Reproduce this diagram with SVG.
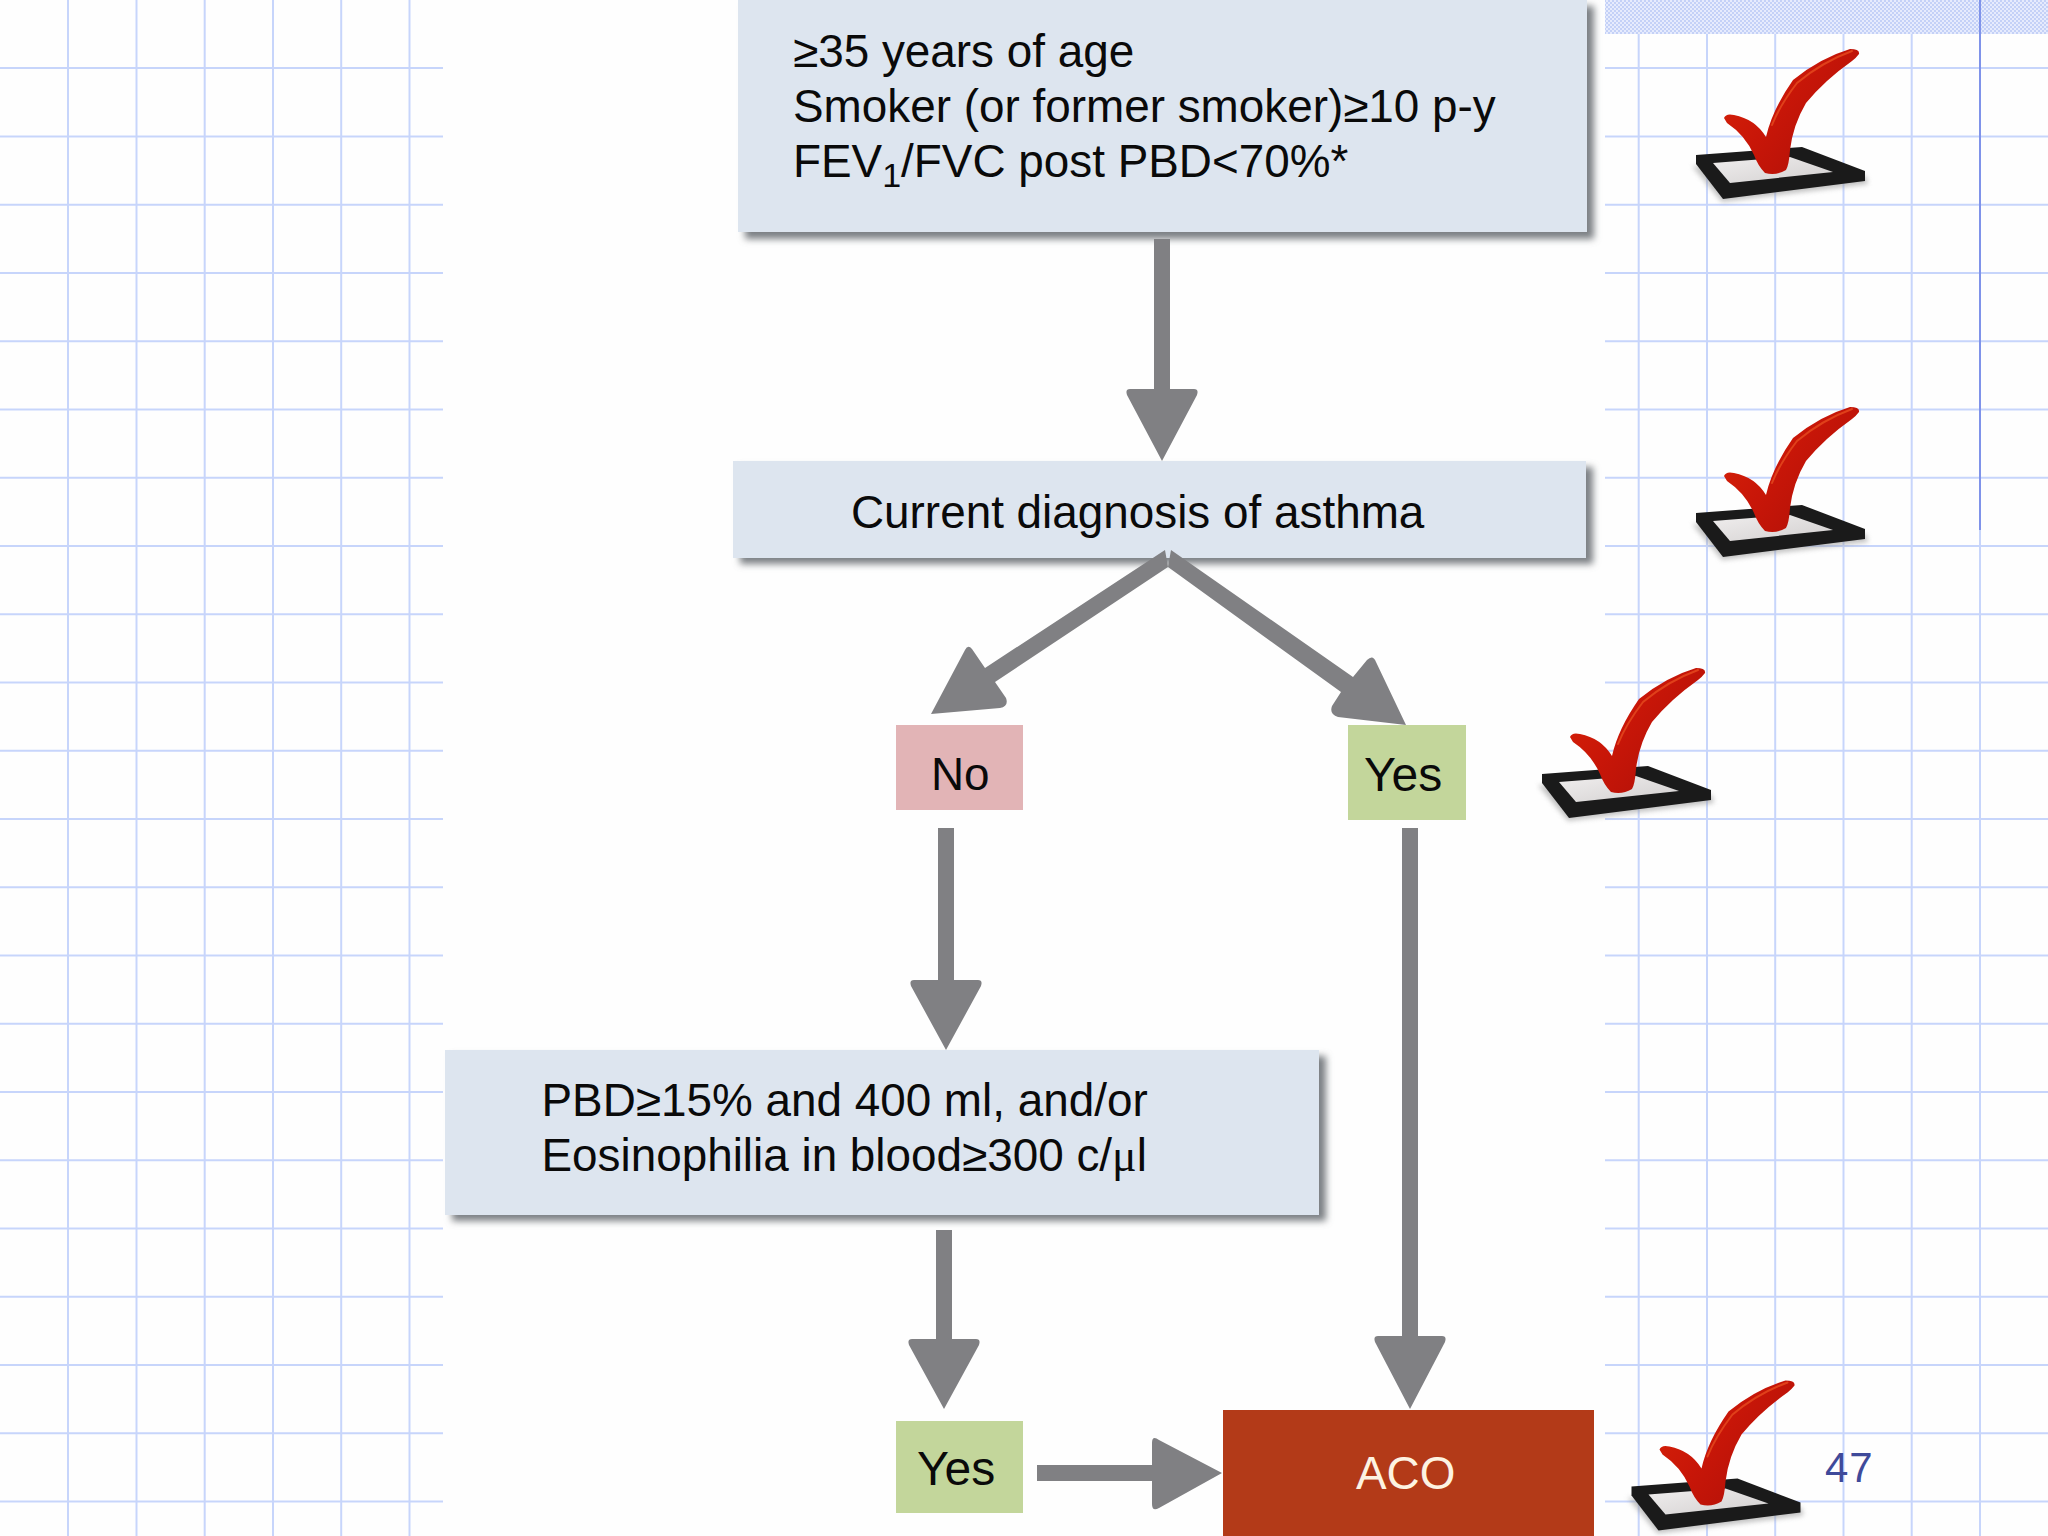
<svg xmlns="http://www.w3.org/2000/svg" xmlns:xlink="http://www.w3.org/1999/xlink" width="2048" height="1536" viewBox="0 0 2048 1536">
<style>
.grid line{stroke:#c7d5fb;stroke-width:2}
.box{fill:#dde5ef}
.shadow{fill:#7b8084;filter:url(#blur3)}
.t{font-family:"Liberation Sans",Arial,sans-serif;font-size:45.85px;fill:#0a0a0a}
.big{font-size:48px}
.sub{font-size:34px}
.mu{font-family:"Liberation Serif",serif}
.arrow{fill:#808083}
</style>
<defs>
<filter id="blur3" x="-10%" y="-20%" width="120%" height="140%"><feGaussianBlur stdDeviation="3.5"/></filter>
<filter id="blur2" x="-20%" y="-30%" width="140%" height="160%"><feGaussianBlur stdDeviation="2.5"/></filter>
<pattern id="dither" width="4" height="4" patternUnits="userSpaceOnUse"><rect width="4" height="4" fill="#e6ebfd"/><rect width="2" height="2" fill="#c4d1f7"/><rect x="2" y="2" width="2" height="2" fill="#c4d1f7"/></pattern>
<linearGradient id="red" x1="0" y1="0" x2="1" y2="0.7"><stop offset="0" stop-color="#d92408"/><stop offset="0.5" stop-color="#c81608"/><stop offset="1" stop-color="#b01008"/></linearGradient>
<linearGradient id="tray" x1="0" y1="0" x2="1" y2="1"><stop offset="0" stop-color="#f0eeee"/><stop offset="1" stop-color="#d2cfcf"/></linearGradient>
<g id="check">
<path d="M1692 166L1722 202L1868 184L1866 176Z" fill="#9a9a9a" opacity="0.6" filter="url(#blur2)"/>
<path d="M1696 155L1802 147L1865 171V181L1723 199L1696 164Z" fill="#1a1a1a"/>
<path d="M1713 163L1790 157L1833 172L1730 183Z" fill="url(#tray)"/>
<path d="M1724 118Q1726 113 1734 115Q1755 119 1766 137Q1772 110 1793 80Q1820 58 1850 49Q1860 49 1859 54Q1856 58 1852 61Q1825 80 1806 103Q1793 125 1790 150Q1789 165 1786 170Q1776 176 1765 173Q1758 166 1754 155Q1745 135 1727 123Z" fill="url(#red)"/>
<path d="M1772 125Q1780 105 1797 83Q1822 62 1852 51" fill="none" stroke="#e0401a" stroke-width="2" stroke-linecap="round"/>
</g>
</defs>
<rect width="2048" height="1536" fill="#fefefe"/>
<g class="grid" id="grid-left">
<line x1="68" y1="0" x2="68" y2="1536"/><line x1="136.5" y1="0" x2="136.5" y2="1536"/><line x1="204.7" y1="0" x2="204.7" y2="1536"/><line x1="273" y1="0" x2="273" y2="1536"/><line x1="341.2" y1="0" x2="341.2" y2="1536"/><line x1="409.5" y1="0" x2="409.5" y2="1536"/>
<line x1="0" y1="68" x2="443" y2="68"/><line x1="0" y1="136.5" x2="443" y2="136.5"/><line x1="0" y1="204.7" x2="443" y2="204.7"/><line x1="0" y1="273" x2="443" y2="273"/><line x1="0" y1="341.2" x2="443" y2="341.2"/><line x1="0" y1="409.5" x2="443" y2="409.5"/><line x1="0" y1="477.7" x2="443" y2="477.7"/><line x1="0" y1="546" x2="443" y2="546"/><line x1="0" y1="614.2" x2="443" y2="614.2"/><line x1="0" y1="682.5" x2="443" y2="682.5"/><line x1="0" y1="750.7" x2="443" y2="750.7"/><line x1="0" y1="819" x2="443" y2="819"/><line x1="0" y1="887.2" x2="443" y2="887.2"/><line x1="0" y1="955.5" x2="443" y2="955.5"/><line x1="0" y1="1023.7" x2="443" y2="1023.7"/><line x1="0" y1="1092" x2="443" y2="1092"/><line x1="0" y1="1160.2" x2="443" y2="1160.2"/><line x1="0" y1="1228.5" x2="443" y2="1228.5"/><line x1="0" y1="1296.7" x2="443" y2="1296.7"/><line x1="0" y1="1365" x2="443" y2="1365"/><line x1="0" y1="1433.2" x2="443" y2="1433.2"/><line x1="0" y1="1501.5" x2="443" y2="1501.5"/>
</g>
<g class="grid" id="grid-right">
<line x1="1638.7" y1="0" x2="1638.7" y2="1536"/><line x1="1707" y1="0" x2="1707" y2="1536"/><line x1="1775.2" y1="0" x2="1775.2" y2="1536"/><line x1="1843.5" y1="0" x2="1843.5" y2="1536"/><line x1="1911.7" y1="0" x2="1911.7" y2="1536"/><line x1="1980" y1="0" x2="1980" y2="1536"/>
<line x1="1605" y1="68" x2="2048" y2="68"/><line x1="1605" y1="136.5" x2="2048" y2="136.5"/><line x1="1605" y1="204.7" x2="2048" y2="204.7"/><line x1="1605" y1="273" x2="2048" y2="273"/><line x1="1605" y1="341.2" x2="2048" y2="341.2"/><line x1="1605" y1="409.5" x2="2048" y2="409.5"/><line x1="1605" y1="477.7" x2="2048" y2="477.7"/><line x1="1605" y1="546" x2="2048" y2="546"/><line x1="1605" y1="614.2" x2="2048" y2="614.2"/><line x1="1605" y1="682.5" x2="2048" y2="682.5"/><line x1="1605" y1="750.7" x2="2048" y2="750.7"/><line x1="1605" y1="819" x2="2048" y2="819"/><line x1="1605" y1="887.2" x2="2048" y2="887.2"/><line x1="1605" y1="955.5" x2="2048" y2="955.5"/><line x1="1605" y1="1023.7" x2="2048" y2="1023.7"/><line x1="1605" y1="1092" x2="2048" y2="1092"/><line x1="1605" y1="1160.2" x2="2048" y2="1160.2"/><line x1="1605" y1="1228.5" x2="2048" y2="1228.5"/><line x1="1605" y1="1296.7" x2="2048" y2="1296.7"/><line x1="1605" y1="1365" x2="2048" y2="1365"/><line x1="1605" y1="1433.2" x2="2048" y2="1433.2"/><line x1="1605" y1="1501.5" x2="2048" y2="1501.5"/>
</g>
<rect id="band" x="1605" y="0" width="443" height="34" fill="url(#dither)"/>
<line id="margin" x1="1980" y1="0" x2="1980" y2="530" stroke="#7f93ea" stroke-width="2"/>

<g id="node-criteria">
<rect class="shadow" x="745" y="6" width="849" height="233"/>
<rect class="box" x="738" y="-2" width="849" height="234"/>
<text class="t" x="793" y="67">≥35 years of age</text>
<text class="t" x="793" y="122">Smoker (or former smoker)≥10 p-y</text>
<text class="t" x="793" y="177">FEV<tspan class="sub" dy="10">1</tspan><tspan dy="-10">/FVC post PBD&lt;70%*</tspan></text>
</g>
<g id="node-asthma">
<rect class="shadow" x="740" y="467" width="853" height="97"/>
<rect class="box" x="733" y="461" width="853" height="97"/>
<text class="t" x="851" y="528">Current diagnosis of asthma</text>
</g>
<g id="node-no">
<rect x="896" y="725" width="127" height="85" fill="#e2b4b6"/>
<text class="t" x="931" y="790">No</text>
</g>
<g id="node-yes-1">
<rect x="1348" y="725" width="118" height="95" fill="#c3d69b"/>
<text class="t big" x="1364" y="791">Yes</text>
</g>
<g id="node-pbd">
<rect class="shadow" x="452" y="1056" width="874" height="165"/>
<rect class="box" x="445" y="1050" width="874" height="165"/>
<text class="t" x="541.5" y="1116">PBD≥15% and 400 ml, and/or</text>
<text class="t" x="541.5" y="1171">Eosinophilia in blood≥300 c/<tspan class="mu">μ</tspan>l</text>
</g>
<g id="node-yes-2">
<rect x="896" y="1421" width="127" height="92" fill="#c3d69b"/>
<text class="t big" x="917" y="1485">Yes</text>
</g>
<g id="node-aco">
<rect x="1223" y="1410" width="371" height="126" fill="#b33a18"/>
<text class="t" x="1356" y="1489" style="fill:#fdf3e2">ACO</text>
</g>

<g id="connectors">
<path class="arrow" d="M1154 239V389H1130Q1125 389 1127 395L1162 461L1197 395Q1199 389 1194 389H1170V239Z"/>
<path class="arrow" d="M1165 550L985 668L972 649Q968 644 965 650L931 714L1000 708Q1009 706 1006 698L995 682L1168 567Z"/>
<path class="arrow" d="M1171 550L1353 677L1367 660Q1373 654 1376 662L1406 725L1338 717Q1329 714 1332 706L1341 692L1168 567Z"/>
<path class="arrow" d="M938 828V980H914Q909 980 911 986L946 1050L981 986Q983 980 978 980H954V828Z"/>
<path class="arrow" d="M1402 828V1336H1378Q1373 1336 1375 1342L1410 1409L1445 1342Q1447 1336 1442 1336H1418V828Z"/>
<path class="arrow" d="M936 1230V1339H912Q907 1339 909 1345L944 1409L979 1345Q981 1339 976 1339H952V1230Z"/>
<path class="arrow" d="M1037 1465H1152V1443Q1152 1435 1159 1440L1222 1473L1159 1508Q1152 1512 1152 1504V1481H1037Z"/>
</g>

<use id="check-1" xlink:href="#check" href="#check"/>
<use id="check-2" xlink:href="#check" href="#check" transform="translate(0 358)"/>
<use id="check-3" xlink:href="#check" href="#check" transform="translate(-154 619)"/>
<use id="check-4" xlink:href="#check" href="#check" transform="translate(-64.5 1331.5)"/>
<text id="page-number" x="1825" y="1482" font-family="Liberation Sans, Arial, sans-serif" font-size="42" letter-spacing="1" fill="#3f4a9a">47</text>
</svg>
